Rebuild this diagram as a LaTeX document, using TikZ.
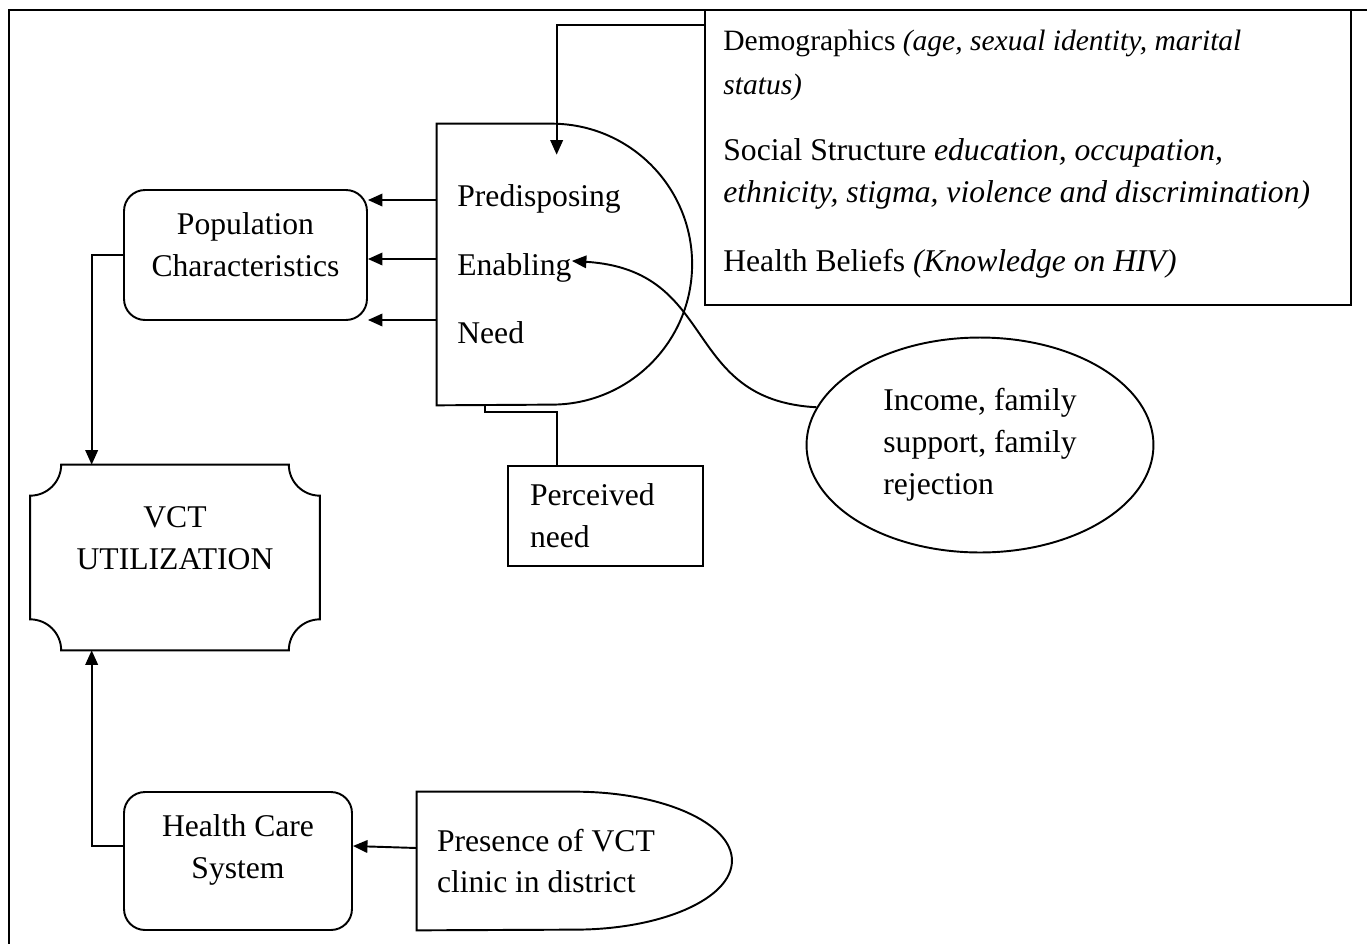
\documentclass[tikz,border=0pt]{standalone}
\usepackage{fontspec}
\setmainfont{Liberation Serif}
\usetikzlibrary{arrows.meta,positioning,shapes.geometric}

\tikzset{
  wire/.style={line width=1.1pt},
  box/.style={draw, line width=1.1pt},
  rbox/.style={box, rounded corners=0.42cm},
  txt/.style={inner sep=0pt, font=\fontsize{18}{23.8}\selectfont},
  arr/.style={line width=1.1pt, -{Triangle[length=0.29cm,width=0.25cm]}},
}

\begin{document}
\begin{tikzpicture}[x=0.02cm,y=0.02cm]
		\useasboundingbox (0,0) rectangle (1367,-944);
		% outer frame
		\draw[line width=1.4pt] (9,-944) -- (9,-10) -- (1367,-10);

		% population characteristics
		\node[rbox, minimum width=4.86cm, minimum height=2.6cm] (pop) at (245.5,-255) {};
		\node[txt, align=flush center] (popt) at (245.5,-245) {Population\\Characteristics};

		% health care system
		\node[rbox, minimum width=4.56cm, minimum height=2.76cm] (hcs) at (238,-861) {};
		\node[txt, align=flush center] (hcst) at (238,-850) {Health Care\\System};

		% VCT utilization (notched corners)
		\node[minimum width=5.78cm, minimum height=3.7cm] (vct) at (175,-557.5) {};
		\draw[wire] ([xshift=0.62cm]vct.north west) -- ([xshift=-0.62cm]vct.north east)
			arc[start angle=180, end angle=270, radius=0.62cm] -- ([yshift=0.62cm]vct.south east)
			arc[start angle=90, end angle=180, radius=0.62cm] -- ([xshift=0.62cm]vct.south west)
			arc[start angle=0, end angle=90, radius=0.62cm] -- ([yshift=-0.62cm]vct.north west)
			arc[start angle=-90, end angle=0, radius=0.62cm] -- cycle;
		\node[txt, align=flush center] (vctt) at (175,-538.5) {VCT\\UTILIZATION};

		% predisposing / enabling / need
		\node[minimum width=5.1cm, minimum height=5.62cm] (attr) at (564.5,-264.5) {};
		\draw[wire] (attr.north west) -- ([xshift=2.3cm]attr.north west)
			arc[start angle=90, end angle=-90, radius=2.81cm] -- (attr.south west) -- cycle;
		\node[txt, anchor=base west] (pred) at (457,-206) {Predisposing};
		\node[txt, anchor=base west] (enab) at (457,-275) {Enabling};
		\node[txt, anchor=base west] (need) at (457,-343) {Need};

		% predisposing factors
		\node[box, minimum width=12.92cm, minimum height=5.9cm] (dbox) at (1028,-157.5) {};
		\node[txt, anchor=north west, align=flush left, font=\fontsize{16.8}{25}\selectfont] (demo) at (723,-29.5)
			{Demographics \textit{(age, sexual identity, marital}\\\textit{status)}};
		\node[txt, anchor=north west, align=flush left] (soc) at (723,-138.4)
			{Social Structure \textit{education, occupation,}\\\textit{ethnicity, stigma, violence and discrimination)}};
		\node[txt, anchor=north west, align=flush left] (hb) at (723,-249)
			{Health Beliefs \textit{(Knowledge on HIV)}};

		% need and enabling resources
		\node[box, txt, align=flush left, text width=3.02cm, inner xsep=0.44cm, minimum height=2cm] (perc) at (605.5,-516) {Perceived\\need};
		\node[box, ellipse, txt, align=flush left, minimum width=6.94cm, minimum height=4.3cm] (inc) at (980,-445)
			{Income, family\\support, family\\rejection};

		% health system resource
		\node[txt, align=flush left, text width=5.5cm, inner xsep=0.4cm, minimum height=2.76cm] (pres) at (574.5,-861)
			{Presence of VCT\\clinic in district};
		\draw[wire] (pres.north west) -- (pres.north)
			arc[start angle=90, end angle=-90, x radius=3.15cm, y radius=1.38cm] -- (pres.south west) -- cycle;

		% connectors
		\foreach \s in {1.29, 0.11, -1.11}{
			\coordinate (src) at ([yshift=\s cm]attr.west);
			\draw[arr] (src) -- (pop.east |- src);
		}
		\coordinate (entry) at ([xshift=2.4cm, yshift=-0.62cm]attr.north west);
		\draw[arr] ([yshift=-0.32cm]dbox.north west) -| (entry);
		\draw[arr] (pop.west) -| ([xshift=1.23cm]vct.north west);
		\draw[arr] ([yshift=0.3cm]hcs.west) -| ([xshift=1.23cm]vct.south west);
		\draw[arr] ([yshift=0.26cm]pres.west) -- ([yshift=0.3cm]hcs.east);
		\draw[wire] ([xshift=-0.97cm]perc.north) |- ([xshift=0.96cm, yshift=-0.14cm]attr.south west)
			-- ([xshift=0.96cm]attr.south west);
		\draw[arr] (inc.167) .. controls (680,-400) and (720,-270) .. ([yshift=0.13cm]enab.east);
	\end{tikzpicture}
\end{document}
